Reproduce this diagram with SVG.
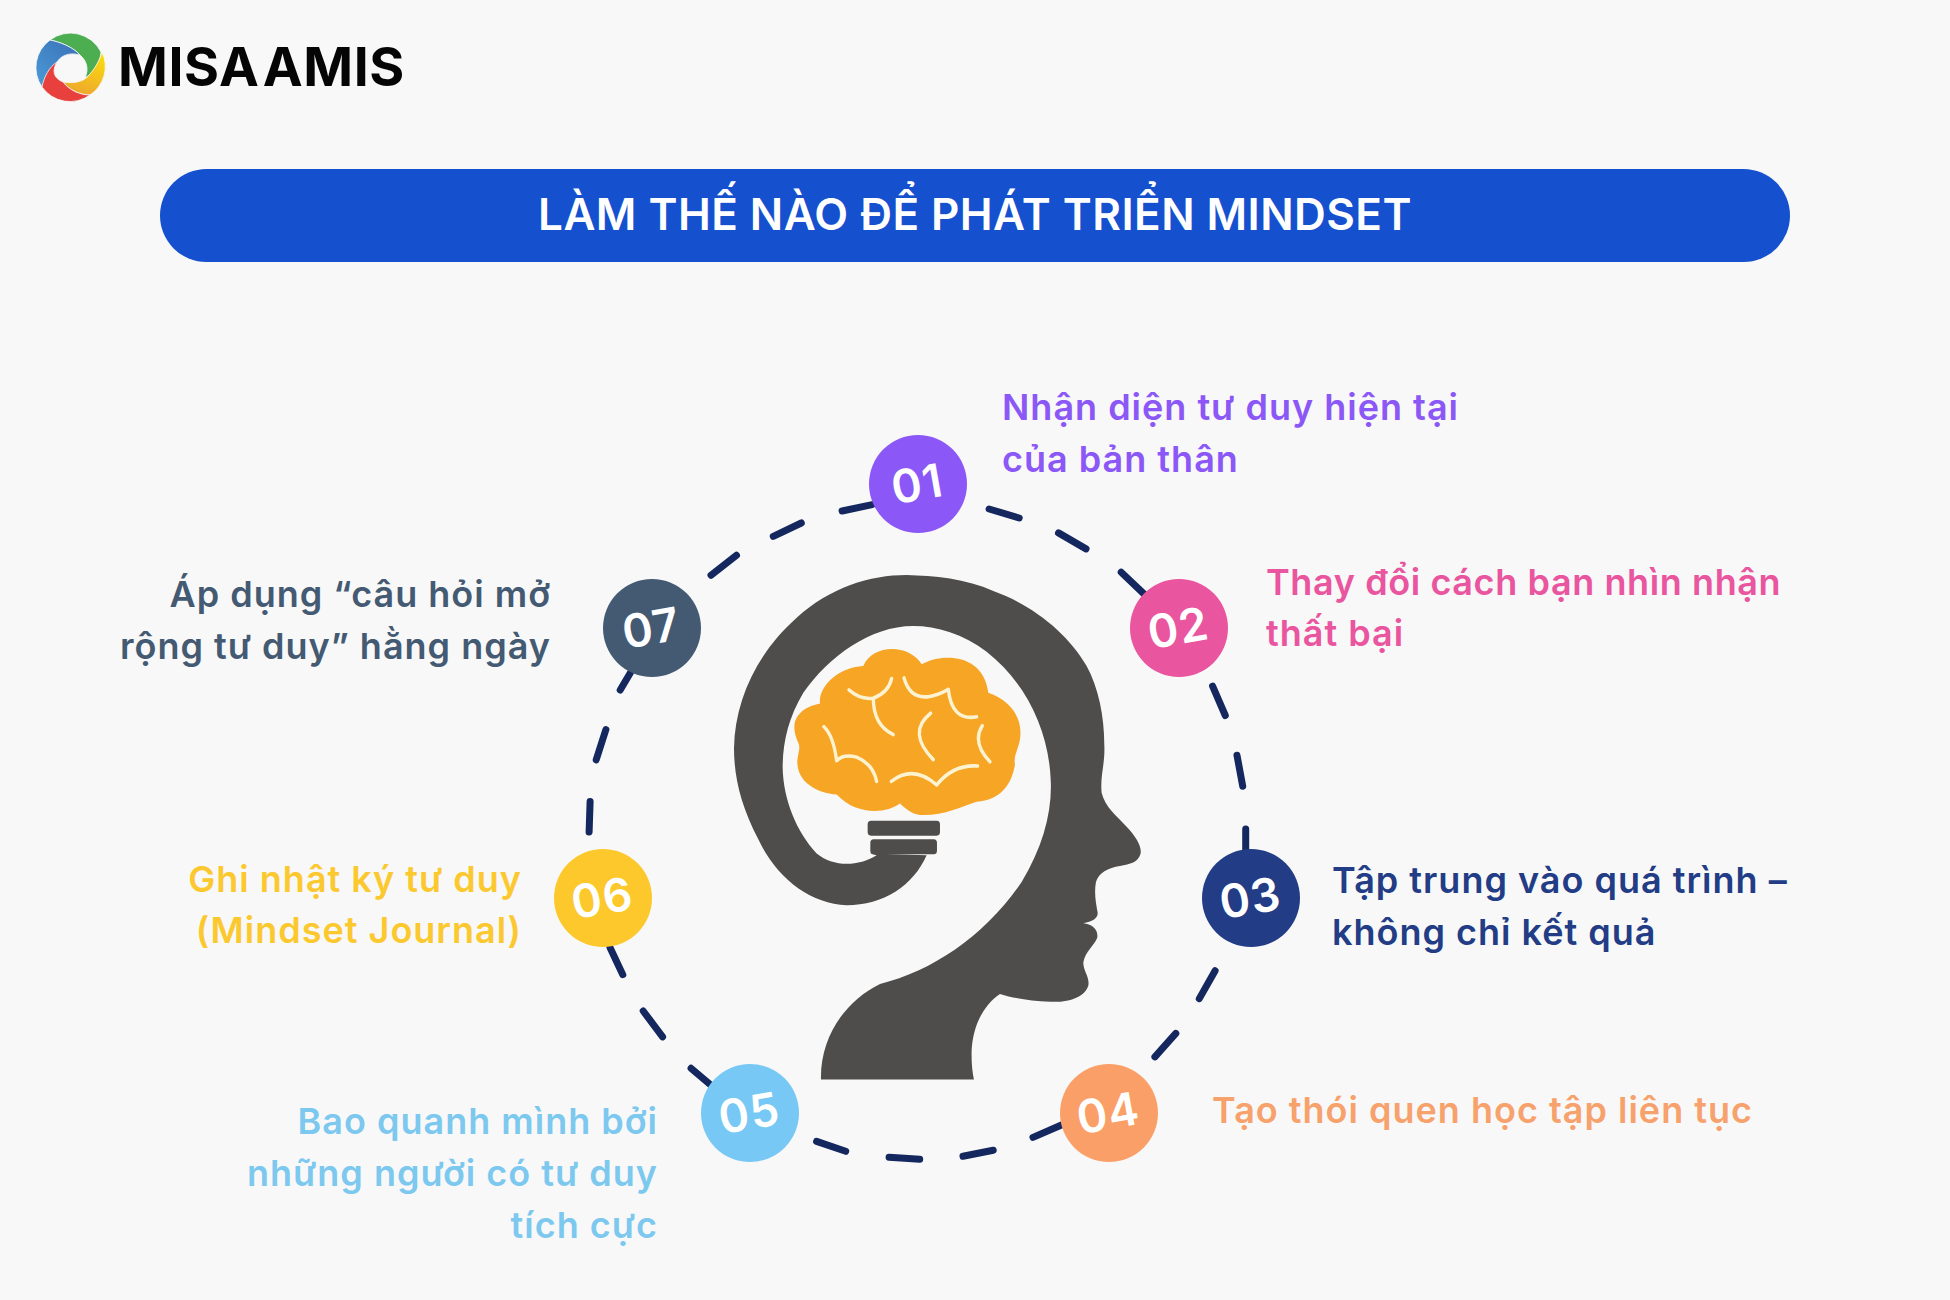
<svg xmlns="http://www.w3.org/2000/svg" width="1950" height="1300" viewBox="0 0 1950 1300">
<style>
.t{font-family:"Inter","Noto Sans",sans-serif;font-weight:600;font-size:36px;letter-spacing:1px}
.e{text-anchor:end}
.n{font-family:"Inter","Noto Sans",sans-serif;font-weight:600;font-size:46px;fill:#fff;text-anchor:middle;letter-spacing:1px}
.c line{stroke:#14275e;stroke-width:7;stroke-linecap:round}
.l path{stroke:#f8f8f8;stroke-width:0.8}
</style>
<defs>
<linearGradient id="gy" x1="0.6" y1="0" x2="0.3" y2="1"><stop offset="0" stop-color="#fbdc0c"/><stop offset="1" stop-color="#eda52f"/></linearGradient>
<linearGradient id="gb" x1="0" y1="1" x2="1" y2="0"><stop offset="0" stop-color="#4a9bd8"/><stop offset="1" stop-color="#3a6fb5"/></linearGradient>
</defs>
<rect width="1950" height="1300" fill="#f8f8f8"/>
<g id="logo">
<g class="l" transform="translate(70,67)">
<path d="M-20,-27 A34,34 0 0 1 31,-15 C30,-4 25,5 15,11 C19,2 17,-6 10,-12 C3,-20 -10,-25 -20,-27Z" fill="#4cae50"/>
<path d="M-20,-27 C-10,-25 3,-20 10,-12 C0,-15 -10,-12 -14,-3 C-20,5 -24,12 -28,20 A34,34 0 0 1 -20,-27Z" fill="url(#gb)"/>
<path d="M32,-15 A34,34 0 0 1 20,28 C11,28 0,24 -7,15 C6,17 15,14 20,7 C26,0 30,-8 32,-15Z" fill="url(#gy)"/>
<path d="M-13,-5 C-18,3 -17,11 -7,15 C0,24 11,28 20,28 A34,34 0 0 1 -28,20 C-26,10 -21,0 -13,-5Z" fill="#e8403c"/>
</g>
<text x="118" y="86" font-family="Inter,'Noto Sans',sans-serif" font-weight="700" font-size="53.5" fill="#050505" word-spacing="-10" letter-spacing="0.6">MISA AMIS</text>
</g>
<g id="title">
<rect x="160" y="169" width="1630" height="93" rx="46.5" fill="#1550cf"/>
<text x="975" y="229.500" text-anchor="middle" font-family="Inter,'Noto Sans',sans-serif" font-weight="600" font-size="44" letter-spacing="0.45" fill="#fff">LÀM THẾ NÀO ĐỂ PHÁT TRIỂN MINDSET</text>
</g>
<g id="connectors" class="c">
<line x1="842.1" y1="511" x2="872.2" y2="504.6"/>
<line x1="773.3" y1="536.4" x2="801.3" y2="523"/>
<line x1="711" y1="575.2" x2="736.5" y2="555.3"/>
<line x1="620.2" y1="690.1" x2="630.4" y2="672.7"/>
<line x1="596.2" y1="759.8" x2="605.9" y2="729.5"/>
<line x1="589.1" y1="832" x2="590.1" y2="801.6"/>
<line x1="610" y1="947.4" x2="622.8" y2="974.7"/>
<line x1="643.2" y1="1011" x2="662.6" y2="1036.9"/>
<line x1="691.1" y1="1068.3" x2="711.5" y2="1085.7"/>
<line x1="816.6" y1="1141.4" x2="845.7" y2="1151.3"/>
<line x1="889.1" y1="1157.3" x2="919.7" y2="1159.3"/>
<line x1="963" y1="1156.3" x2="993.2" y2="1150.3"/>
<line x1="1033" y1="1137.4" x2="1062.6" y2="1124.5"/>
<line x1="1154.9" y1="1056.8" x2="1175.8" y2="1033.4"/>
<line x1="1199.3" y1="998.6" x2="1215.1" y2="970.7"/>
<line x1="1245.7" y1="850" x2="1245.7" y2="829"/>
<line x1="1242.7" y1="786.2" x2="1237" y2="755.3"/>
<line x1="1225.3" y1="715.5" x2="1212.6" y2="686.2"/>
<line x1="1121.2" y1="572.2" x2="1144.2" y2="594.1"/>
<line x1="1058.5" y1="532.9" x2="1086" y2="548.9"/>
<line x1="989.1" y1="509" x2="1019.2" y2="518"/>
</g>
<g id="head" transform="translate(700,550) scale(0.3333,0.3571)">
<path fill="#4f4d4b" d="M363,1483 C360,1370 430,1265 540,1215 C700,1180 860,1075 965,930 C1030,830 1058,730 1052,640 C1045,500 975,370 860,285 C790,235 710,213 640,213 C510,213 385,300 310,400 C265,470 248,540 248,610 C250,700 290,790 350,850 C395,885 470,890 530,855 L510,850 L680,855 C640,940 550,995 440,995 C330,990 230,920 175,810 C125,720 102,640 102,555 C105,420 170,290 290,190 C390,105 510,70 620,70 C700,72 800,80 880,115 C1000,155 1105,235 1160,325 C1195,385 1213,465 1213,545 C1216,600 1200,630 1205,680 C1215,720 1250,745 1280,775 C1310,805 1325,830 1322,850 C1315,875 1290,880 1260,885 C1225,890 1195,905 1188,930 C1182,960 1188,990 1192,1010 C1198,1030 1180,1040 1150,1045 C1175,1048 1195,1060 1192,1085 C1185,1105 1155,1125 1150,1155 C1150,1180 1170,1195 1165,1220 C1155,1250 1110,1268 1050,1265 C990,1262 940,1255 900,1243 C850,1275 820,1330 815,1400 C814,1440 818,1465 822,1483Z"/>
<rect x="503" y="758" width="217" height="42" rx="10" fill="#4f4d4b"/>
<rect x="511" y="810" width="200" height="42" rx="10" fill="#4f4d4b"/>
<path fill="#f7a525" d="M285,480 C300,445 330,437 360,430 C355,385 410,330 490,325 C515,265 625,260 665,320 C720,290 850,285 865,400 C930,420 970,470 960,530 C955,560 940,575 945,600 C935,660 900,700 830,705 C780,720 730,745 660,742 C630,738 615,722 600,710 C560,738 470,745 410,685 C350,680 290,650 292,590 C295,565 302,555 295,540 C285,520 280,500 285,480Z"/>
<g fill="none" stroke="#fdf3d0" stroke-width="10" stroke-linecap="round" stroke-linejoin="round">
<path d="M447,392 Q480,420 520,415 Q565,400 575,360"/>
<path d="M520,415 Q520,490 580,517"/>
<path d="M612,358 Q630,420 690,410 Q720,405 745,390 Q755,480 830,467"/>
<path d="M692,457 Q620,510 700,587"/>
<path d="M847,492 Q815,540 870,593"/>
<path d="M372,495 Q400,520 410,590 Q430,570 470,580 Q520,600 530,648"/>
<path d="M574,648 Q640,600 710,658 Q760,600 833,605"/>
</g>
</g>
<g id="node1"><circle cx="918" cy="484" r="49" fill="#8b57f6"/><text class="n" transform="translate(920,500) rotate(-10)">01</text>
<text class="t" fill="#8b57f6" x="1002" y="420">Nhận diện tư duy hiện tại</text><text class="t" fill="#8b57f6" x="1002" y="472">của bản thân</text></g>
<g id="node2"><circle cx="1179" cy="628" r="49" fill="#e9559e"/><text class="n" transform="translate(1181,644) rotate(-10)">02</text>
<text class="t" fill="#e9559e" x="1266" y="595" style="letter-spacing:.6px">Thay đổi cách bạn nhìn nhận</text><text class="t" fill="#e9559e" x="1266" y="646">thất bại</text></g>
<g id="node3"><circle cx="1251" cy="898" r="49" fill="#223c86"/><text class="n" transform="translate(1253,914) rotate(-10)">03</text>
<text class="t" fill="#223c86" x="1332" y="893">Tập trung vào quá trình –</text><text class="t" fill="#223c86" x="1332" y="945">không chỉ kết quả</text></g>
<g id="node4"><circle cx="1109" cy="1113" r="49" fill="#fb9f68"/><text class="n" transform="translate(1111,1129) rotate(-10)">04</text>
<text class="t" fill="#f7a26c" x="1212" y="1123">Tạo thói quen học tập liên tục</text></g>
<g id="node5"><circle cx="750" cy="1113" r="49" fill="#77c8f4"/><text class="n" transform="translate(752,1129) rotate(-10)">05</text>
<text class="t e" fill="#7cc8ef" x="658" y="1134">Bao quanh mình bởi</text><text class="t e" fill="#7cc8ef" x="658" y="1186">những người có tư duy</text><text class="t e" fill="#7cc8ef" x="658" y="1238">tích cực</text></g>
<g id="node6"><circle cx="603" cy="898" r="49" fill="#fdc82c"/><text class="n" transform="translate(605,914) rotate(-10)">06</text>
<text class="t e" fill="#fbc92f" x="522" y="892">Ghi nhật ký tư duy</text><text class="t e" fill="#fbc92f" x="522" y="943">(Mindset Journal)</text></g>
<g id="node7"><circle cx="652" cy="628" r="49" fill="#445a73"/><text class="n" transform="translate(654,644) rotate(-10)">07</text>
<text class="t e" fill="#445a73" x="551" y="607">Áp dụng “câu hỏi mở</text><text class="t e" fill="#445a73" x="551" y="659">rộng tư duy” hằng ngày</text></g>
</svg>
